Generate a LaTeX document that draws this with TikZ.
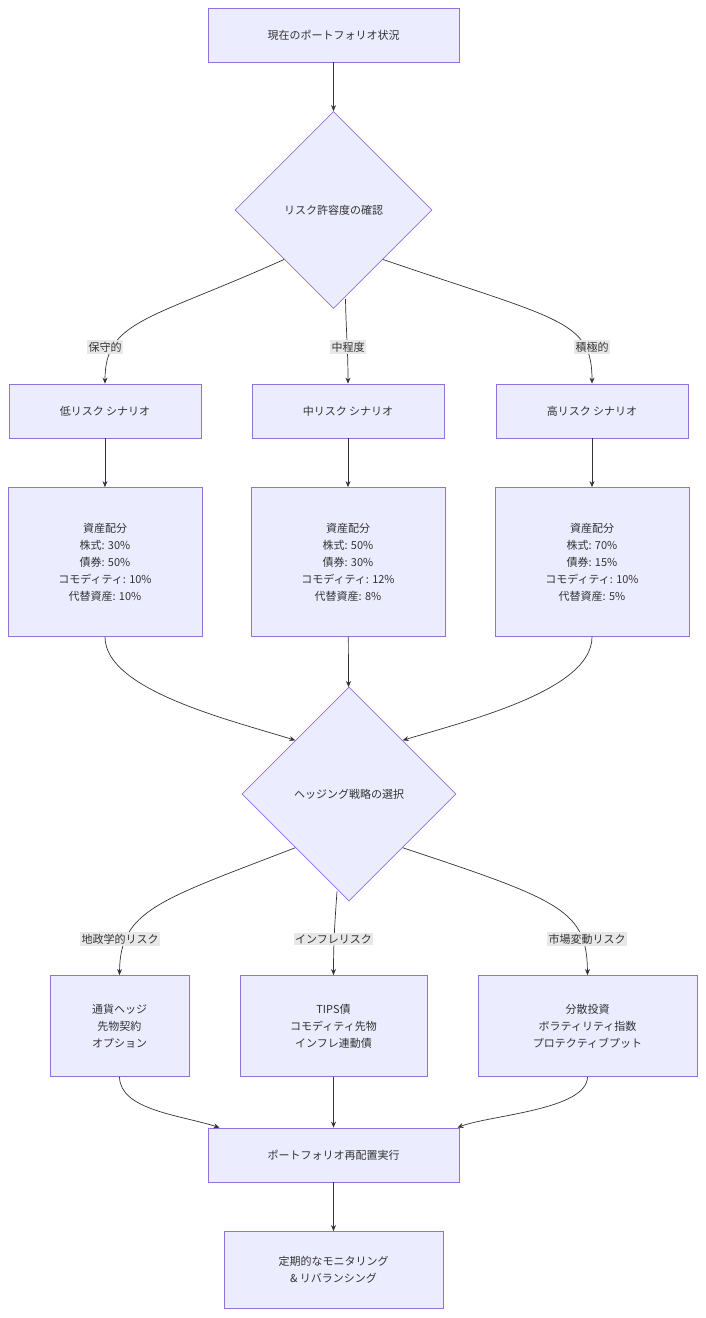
\documentclass[tikz,border=0pt]{standalone}
\usepackage{fontspec}
\setmainfont{Noto Sans CJK JP}
\usetikzlibrary{shapes.geometric,arrows.meta}
\definecolor{nf}{HTML}{ECECFF}
\definecolor{ns}{HTML}{9370DB}
\definecolor{tx}{HTML}{333333}
\definecolor{lb}{HTML}{E8E8E8}
\begin{document}
\begin{tikzpicture}[x=1pt,y=-1pt,
  box/.style={draw=ns,fill=nf,line width=0.8pt,text=tx,font=\fontsize{11}{17}\selectfont,align=center,inner sep=0pt},
  dia/.style={draw=ns,fill=nf,line width=0.8pt,text=tx,diamond,aspect=1,inner sep=0pt,font=\fontsize{11}{14}\selectfont},
  lab/.style={fill=lb,text=tx,font=\fontsize{11}{14}\selectfont,inner sep=1.5pt},
  e/.style={draw=tx,line width=0.7pt,-{Stealth[length=6pt,width=5pt]}}]
\useasboundingbox (0,0) rectangle (706,1318);
\node[box,minimum width=251,minimum height=54] (n1) at (333.5,35) {現在のポートフォリオ状況};
\node[dia,minimum size=197] (d1) at (333.5,210) {リスク許容度の確認};
\node[box,minimum width=192,minimum height=54] (s1) at (105,411) {低リスク シナリオ};
\node[box,minimum width=192,minimum height=54] (s2) at (348,411) {中リスク シナリオ};
\node[box,minimum width=192,minimum height=54] (s3) at (592,411) {高リスク シナリオ};
\node[box,minimum width=194,minimum height=149] (a1) at (105,562) {資産配分\\株式: 30\%\\債券: 50\%\\コモディティ: 10\%\\代替資産: 10\%};
\node[box,minimum width=194,minimum height=149] (a2) at (348,562) {資産配分\\株式: 50\%\\債券: 30\%\\コモディティ: 12\%\\代替資産: 8\%};
\node[box,minimum width=194,minimum height=149] (a3) at (592,562) {資産配分\\株式: 70\%\\債券: 15\%\\コモディティ: 10\%\\代替資産: 5\%};
\node[dia,minimum size=214] (d2) at (349,794) {ヘッジング戦略の選択};
\node[box,minimum width=139,minimum height=101] (h1) at (119.5,1026) {通貨ヘッジ\\先物契約\\オプション};
\node[box,minimum width=187,minimum height=101] (h2) at (333.5,1026) {TIPS債\\コモディティ先物\\インフレ連動債};
\node[box,minimum width=219,minimum height=101] (h3) at (587.5,1026) {分散投資\\ボラティリティ指数\\プロテクティブプット};
\node[box,minimum width=251,minimum height=54] (p) at (333.5,1155) {ポートフォリオ再配置実行};
\node[box,minimum width=219,minimum height=77] (f) at (333.5,1270) {定期的なモニタリング\\\& リバランシング};

\draw[e] (n1) -- (d1);
\draw[e] (d1.south west) .. controls (150,320) and (105,320) .. (s1.north);
\draw[e] (d1.south) ++(12,-10) .. controls (346,330) and (348,350) .. (s2.north);
\draw[e] (d1.south east) .. controls (560,320) and (592,320) .. (s3.north);
\node[lab] (l1) at (105,347) {保守的};
\node[lab] (l2) at (348,347) {中程度};
\node[lab] (l3) at (592,347) {積極的};
\draw[e] (s1) -- (a1);
\draw[e] (s2) -- (a2);
\draw[e] (s3) -- (a3);
\draw[e] (a1.south) .. controls (105,690) and (230,720) .. (d2.north west);
\draw[e] (a2) -- (d2);
\draw[e] (a3.south) .. controls (592,690) and (470,720) .. (d2.north east);
\draw[e] (d2.south west) .. controls (160,900) and (120,910) .. (h1.north);
\draw[e] (d2.south) ++(-12,-10) .. controls (335,920) and (333.5,940) .. (h2.north);
\draw[e] (d2.south east) .. controls (560,900) and (587,910) .. (h3.north);
\node[lab] (l4) at (120,939) {地政学的リスク};
\node[lab] (l5) at (333.5,939) {インフレリスク};
\node[lab] (l6) at (587,939) {市場変動リスク};
\draw[e] (h1.south) .. controls (120,1110) and (180,1115) .. ([xshift=12pt]p.north west);
\draw[e] (h2) -- (p);
\draw[e] (h3.south) .. controls (587,1110) and (490,1115) .. ([xshift=-2pt]p.north east);
\draw[e] (p) -- (f);
\end{tikzpicture}
\end{document}
